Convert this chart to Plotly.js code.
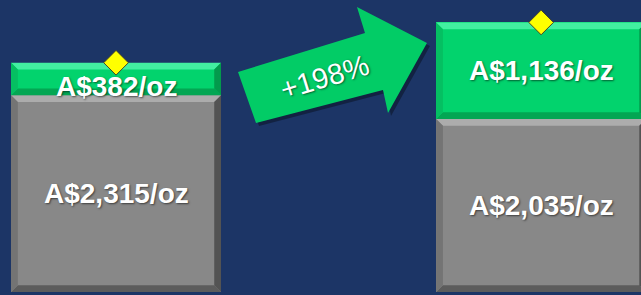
<!DOCTYPE html>
<html>
<head>
<meta charset="utf-8">
<script src="https://cdn.plot.ly/plotly-3.0.1.min.js"></script>
<style>html,body{margin:0;padding:0;background:#1c3566;}#chart{width:641px;height:295px;}</style>
</head>
<body>
<div id="chart"></div>
<script>
// ---- data ----
const categories = ['Before', 'After'];
const baseValues = [2315, 2035];
const marginValues = [382, 1136];
const baseLabels = ['A$2,315/oz', 'A$2,035/oz'];
const marginLabels = ['A$382/oz', 'A$1,136/oz'];
const changeLabel = '+198%';

// ---- layout helpers ----
const W = 641, H = 295;
const xs = categories.map((c, i) => i);
const totals = baseValues.map((v, i) => v + marginValues[i]);
const barWidth = 0.494;
const xRange = [-0.273, 1.235];
const yRange = [-35, 3435];
const bx = 0.016, by = 80;

const GREEN = '#02d36d', GRAY = '#888888', BG = '#1c3566';
const textShadow = '1px 1px 2px rgba(0,0,0,0.55)';

const traces = [
  {type: 'bar', x: xs, y: baseValues, width: barWidth, marker: {color: GRAY, line: {width: 0}}, hoverinfo: 'none'},
  {type: 'bar', x: xs, y: marginValues, width: barWidth, marker: {color: GREEN, line: {width: 0}}, hoverinfo: 'none'}
];

// bevel facets as filled polygons derived from the bar data
function bevel(x0, x1, y0, y1, cols) {
  const polys = [
    [[x0, y1], [x1, y1], [x1 - bx, y1 - by], [x0 + bx, y1 - by]],
    [[x0, y0], [x1, y0], [x1 - bx, y0 + by], [x0 + bx, y0 + by]],
    [[x0, y0], [x0, y1], [x0 + bx, y1 - by], [x0 + bx, y0 + by]],
    [[x1, y0], [x1, y1], [x1 - bx, y1 - by], [x1 - bx, y0 + by]]
  ];
  polys.forEach((pts, k) => {
    traces.push({type: 'scatter', mode: 'lines', fill: 'toself', fillcolor: cols[k],
      x: pts.map(q => q[0]).concat([pts[0][0]]), y: pts.map(q => q[1]).concat([pts[0][1]]),
      line: {width: 0, color: cols[k]}, hoverinfo: 'none'});
  });
}
xs.forEach((x, i) => {
  const x0 = x - barWidth / 2, x1 = x + barWidth / 2;
  bevel(x0, x1, 0, baseValues[i], ['#acacac', '#5c5c5c', '#747474', '#535353']);
  bevel(x0, x1, baseValues[i], totals[i], ['#42efa1', '#03a653', '#05bf62', '#039a4c']);
});

traces.push({type: 'scatter', mode: 'markers', x: xs, y: totals, cliponaxis: false,
  marker: {symbol: 'diamond', size: 19, color: '#ffff00', line: {color: '#45452a', width: 1}}, hoverinfo: 'none'});

// arrow (decorative), pixel coords -> paper
const P = (x, y) => (x / W).toFixed(4) + ',' + (1 - y / H).toFixed(4);
const arrowPts = [[256,123],[238,72],[365,33],[357,7],[427,43],[388,113],[383,90]];
const arrowPath = off => 'M' + arrowPts.map(q => P(q[0] + off, q[1] + off)).join(' L') + ' Z';
const shapes = [
  {type: 'path', xref: 'paper', yref: 'paper', path: arrowPath(3), fillcolor: 'rgba(0,0,0,0.35)', line: {width: 0}, layer: 'above'},
  {type: 'path', xref: 'paper', yref: 'paper', path: arrowPath(0), fillcolor: '#02cc66', line: {width: 0}, layer: 'above'}
];

const labelFont = {family: 'Liberation Sans, Arial, sans-serif', size: 28, color: '#ffffff', weight: 'bold', shadow: textShadow};
const annotations = [];
xs.forEach((x, i) => {
  annotations.push({x: x, y: baseValues[i] / 2, xref: 'x', yref: 'y', text: '<b>' + baseLabels[i] + '</b>', showarrow: false, font: labelFont,
    xanchor: 'center', yanchor: 'middle'});
  annotations.push({x: x, y: baseValues[i] + marginValues[i] / 2, xref: 'x', yref: 'y', text: '<b>' + marginLabels[i] + '</b>', showarrow: false, font: labelFont,
    xanchor: 'center', yanchor: 'middle', yshift: i === 0 ? -8 : 0});
});
annotations.push({x: 325 / W, y: 1 - 77 / H, xref: 'paper', yref: 'paper', xanchor: 'center', yanchor: 'middle',
  text: changeLabel, showarrow: false, textangle: -17,
  font: {family: 'Liberation Sans, Arial, sans-serif', size: 29, color: '#ffffff', shadow: textShadow}});

const layout = {
  width: W, height: H,
  margin: {l: 0, r: 0, t: 0, b: 0},
  paper_bgcolor: BG, plot_bgcolor: BG,
  barmode: 'stack', bargap: 0,
  showlegend: false,
  xaxis: {range: xRange, visible: false, fixedrange: true},
  yaxis: {range: yRange, visible: false, fixedrange: true},
  shapes: shapes,
  annotations: annotations
};

Plotly.newPlot('chart', traces, layout, {displayModeBar: false, staticPlot: true});
</script>
</body>
</html>
